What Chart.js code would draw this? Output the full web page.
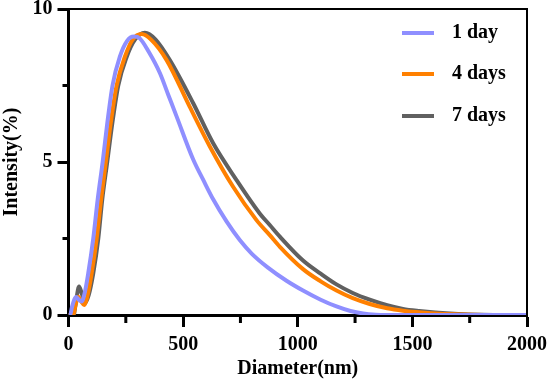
<!DOCTYPE html>
<html>
<head>
<meta charset="utf-8">
<script src="https://cdn.jsdelivr.net/npm/chart.js@4.4.1/dist/chart.umd.min.js"></script>
<style>
html,body{margin:0;padding:0;background:#fff;}
#wrap{width:550px;height:389px;position:relative;}
</style>
</head>
<body>
<div id="wrap"><canvas id="c" width="550" height="389"></canvas></div>
<script>
// ---- data ----
const seriesLabels = ['1 day', '4 days', '7 days'];
const seriesColors = ['#8f8fff', '#ff8000', '#606060'];

const diam1 = [0,7,15,25,33,45,57,70,86,108,127,149,169,192,224,255,285,311,350,399,435,471,544,590,631,690,747,800,870,951,1023,1100,1169,1230,1285,1340,1380,2000];
const int1  = [0,0,0.25,0.5,0.59,0.5,0.44,0.7,1.36,2.5,3.76,5.0,6.26,7.5,8.44,8.95,9.1,9.04,8.6,7.9,7.2,6.5,5.08,4.38,3.78,3.05,2.45,2.0,1.55,1.12,0.8,0.5,0.28,0.13,0.05,0.01,0,0];

const diam4 = [0,21,30,43,55,68,82,101,123,142,163,184,210,246,280,319,360,428,529,617,718,820,878,922,1023,1100,1169,1240,1314,1390,1459,1540,1619,1720,1836,2000];
const int4  = [0,0,0.3,0.6,0.45,0.33,0.6,1.36,2.5,3.76,5.0,6.26,7.5,8.44,9.0,9.18,9.0,8.33,6.8,5.5,4.19,3.1,2.61,2.23,1.5,1.1,0.8,0.55,0.36,0.22,0.14,0.08,0.04,0.015,0,0];

const diam7 = [0,22,32,46,58,72,88,108,130,147,169,191,217,254,290,333,380,442,544,631,733,834,878,922,1023,1100,1169,1240,1314,1390,1459,1530,1600,1700,1800,1900,2000];
const int7  = [0,0,0.4,0.93,0.7,0.4,0.65,1.36,2.5,3.76,5.0,6.26,7.5,8.44,9.0,9.22,9.0,8.33,6.92,5.61,4.41,3.32,2.94,2.56,1.78,1.35,1.0,0.72,0.5,0.32,0.2,0.13,0.08,0.035,0.01,0,0];

const xTicksMajor = [0, 500, 1000, 1500, 2000];
const yTicksMajor = [0, 5, 10];

const toPts = (xs, ys) => xs.map((x, i) => ({x: x, y: ys[i]}));
const allX = [diam1, diam4, diam7];
const allY = [int1, int4, int7];

const FONT = '"Liberation Serif", "Times New Roman", serif';

const frameAndMinor = {
  id: 'frameAndMinor',
  afterDraw(chart) {
    const ctx = chart.ctx, a = chart.chartArea;
    const xs = chart.scales.x, ys = chart.scales.y;
    ctx.save();
    ctx.strokeStyle = '#000';
    // top and right frame
    ctx.lineWidth = 2;
    ctx.beginPath();
    ctx.moveTo(a.left, a.top); ctx.lineTo(a.right, a.top); ctx.lineTo(a.right, a.bottom);
    ctx.stroke();
    // minor ticks
    ctx.lineWidth = 3;
    ctx.beginPath();
    for (let v = 250; v < 2000; v += 500) {
      const px = xs.getPixelForValue(v);
      ctx.moveTo(px, a.bottom); ctx.lineTo(px, a.bottom + 8);
    }
    for (let v = 2.5; v < 10; v += 5) {
      const py = ys.getPixelForValue(v);
      ctx.moveTo(a.left, py); ctx.lineTo(a.left - 6, py);
    }
    ctx.stroke();
    // legend
    ctx.font = 'bold 20px ' + FONT;
    ctx.textBaseline = 'middle';
    ctx.textAlign = 'left';
    const rowY = [33, 74, 116];
    chart.data.datasets.forEach((ds, i) => {
      const y = rowY[i];
      ctx.strokeStyle = ds.borderColor;
      ctx.lineWidth = 4;
      ctx.beginPath();
      ctx.moveTo(402, y); ctx.lineTo(434, y);
      ctx.stroke();
      ctx.fillStyle = '#000';
      ctx.fillText(ds.label, 452, y);
    });
    ctx.restore();
  }
};

new Chart(document.getElementById('c'), {
  type: 'line',
  data: {
    datasets: seriesLabels.map((lab, i) => ({
      label: lab,
      data: toPts(allX[i], allY[i]),
      borderColor: seriesColors[i],
      backgroundColor: seriesColors[i],
      borderWidth: 4,
      pointRadius: 0,
      cubicInterpolationMode: 'monotone',
      fill: false
    }))
  },
  options: {
    responsive: false,
    animation: false,
    layout: {padding: {top: 9, right: 23, left: 0, bottom: 0}},
    plugins: {legend: {display: false}, tooltip: {enabled: false}},
    scales: {
      x: {
        type: 'linear', min: 0, max: 2000,
        afterFit: s => { s.height = 74; s.paddingLeft = 0; s.paddingRight = 0; },
        afterBuildTicks: s => { s.ticks = xTicksMajor.map(v => ({value: v})); },
        ticks: {autoSkip: false, maxRotation: 0, padding: 6, color: '#000',
          callback: v => String(v),
          font: {family: FONT, size: 20, weight: 'bold'}},
        grid: {drawOnChartArea: false, tickLength: 12, tickWidth: 3, tickColor: '#000'},
        border: {color: '#000', width: 3},
        title: {display: true, text: 'Diameter(nm)', color: '#000', padding: {top: 0, bottom: 8},
          font: {family: FONT, size: 20, weight: 'bold'}}
      },
      y: {
        min: 0, max: 10,
        afterFit: s => { s.width = 68.5; s.paddingTop = 0; s.paddingBottom = 0; },
        afterBuildTicks: s => { s.ticks = yTicksMajor.map(v => ({value: v})); },
        ticks: {padding: 5, color: '#000', callback: v => String(v),
          font: {family: FONT, size: 20, weight: 'bold'}},
        grid: {drawOnChartArea: false, tickLength: 11, tickWidth: 3, tickColor: '#000'},
        border: {color: '#000', width: 3},
        title: {display: true, text: 'Intensity(%)', color: '#000', padding: {top: 0, bottom: 0},
          font: {family: FONT, size: 20, weight: 'bold'}}
      }
    }
  },
  plugins: [frameAndMinor]
});
</script>
</body>
</html>
